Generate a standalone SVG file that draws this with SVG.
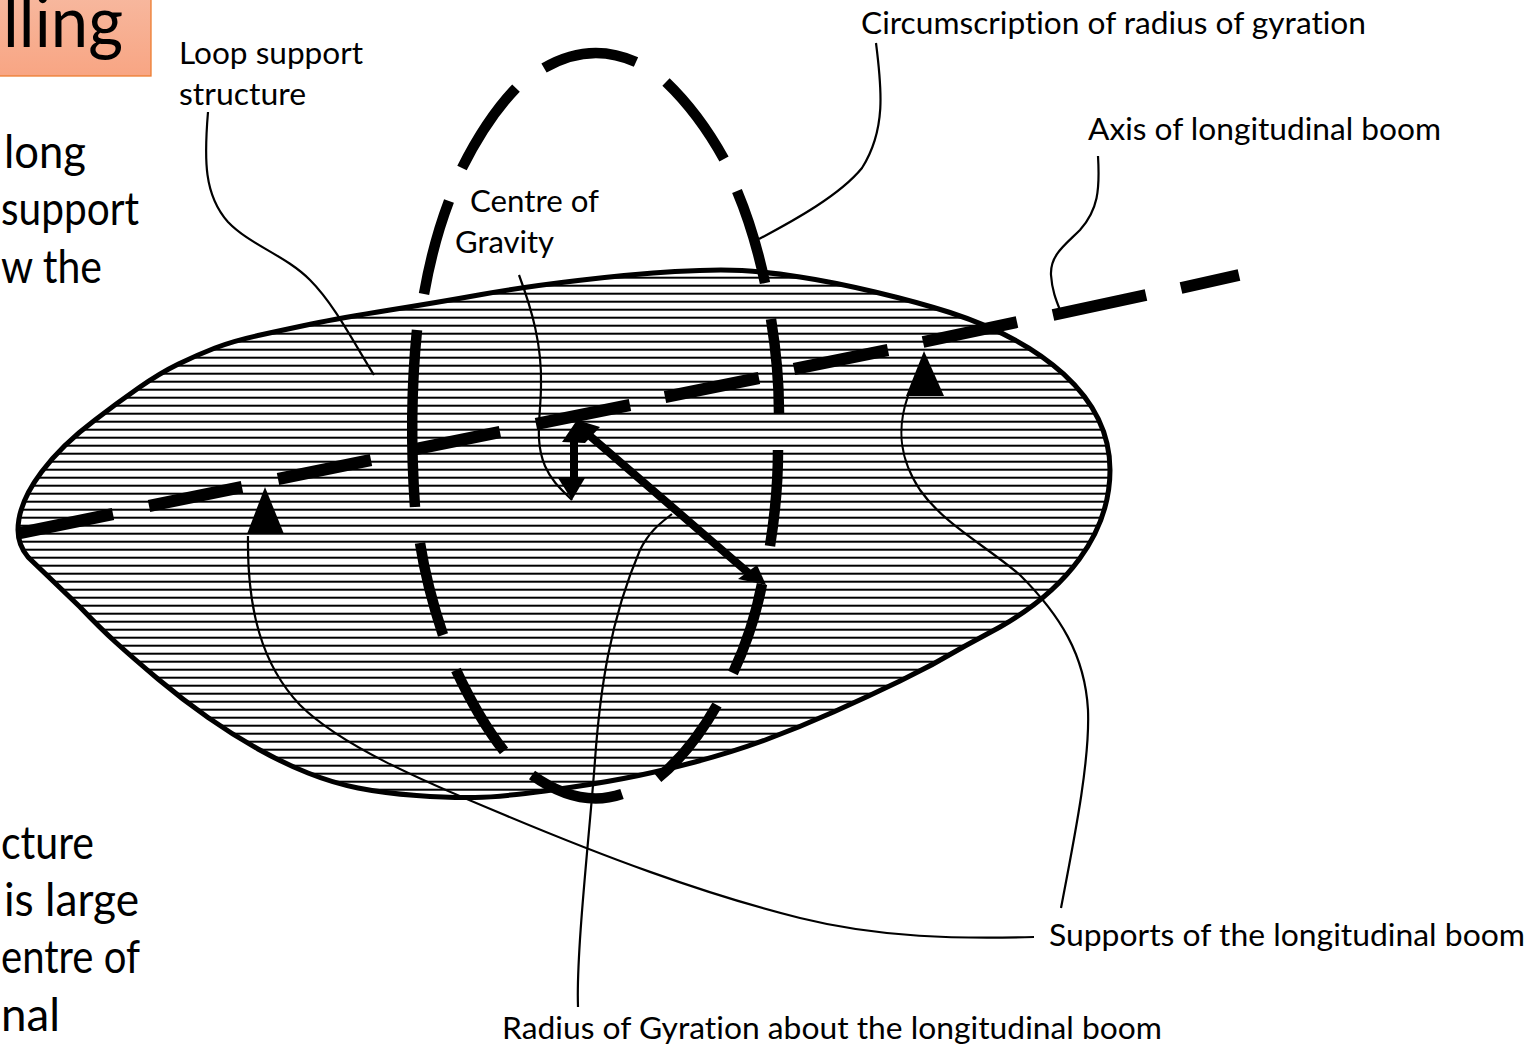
<svg xmlns="http://www.w3.org/2000/svg" width="1537" height="1047" viewBox="0 0 1537 1047">
<style>
text{font-family:Lato,"Open Sans","Noto Sans",sans-serif;fill:#000;font-variant-ligatures:none}
.l{font-size:30px}
.b{font-size:46px}
.thin{fill:none;stroke:#000;stroke-width:2.2px}
.loop{fill:none;stroke:#000;stroke-width:10.5px}
.axis{fill:none;stroke:#000;stroke-width:12px}
.arr{fill:none;stroke:#000;stroke-width:8px}
</style>
<defs>
<pattern id="hatch" width="8" height="8" patternUnits="userSpaceOnUse"><rect y="4.7" width="8" height="2"/></pattern>
<linearGradient id="tg" x1="0" y1="0" x2="0" y2="1"><stop offset="0" stop-color="#f7b9a0"/><stop offset="1" stop-color="#f8a583"/></linearGradient>
</defs>
<g id="title"><rect x="-4" y="-10" width="155" height="86" fill="url(#tg)" stroke="#ed7d31" stroke-width="1.3"/>
<text x="3" y="47" font-size="72" textLength="120" lengthAdjust="spacingAndGlyphs">lling</text></g>
<g id="body-text">
<text class="b" x="4" y="168" textLength="82" lengthAdjust="spacingAndGlyphs">long</text>
<text class="b" x="1" y="225" textLength="138" lengthAdjust="spacingAndGlyphs">support</text>
<text class="b" x="1" y="283" textLength="101" lengthAdjust="spacingAndGlyphs">w the</text>
<text class="b" x="1" y="859" textLength="93" lengthAdjust="spacingAndGlyphs">cture</text>
<text class="b" x="4" y="916" textLength="135" lengthAdjust="spacingAndGlyphs">is large</text>
<text class="b" x="1" y="973" textLength="139" lengthAdjust="spacingAndGlyphs">entre of</text>
<text class="b" x="1" y="1031" textLength="59" lengthAdjust="spacingAndGlyphs">nal</text>
</g>
<g id="body"><path d="M18 530C18 492 55 450 95 420Q117 403 138.5 388Q160 373 178.5 364Q197 355 215 348Q233 341 258 335.5Q283 330 311.5 324Q340 318 390 310Q440 302 481.5 294.5Q523 287 578 280.500Q633 274 675 271.5Q717 269 742 270.5Q767 272 800 277Q833 282 875 292Q917 302 950 312.5C1040 342 1110 395 1110 470C1110 535 1065 590 1000 627L965 646Q933 665 900 681Q867 697 833.5 712Q800 727 766.5 739.5Q733 752 695 762Q657 772 623.5 778.5Q590 785 545 791Q500 797 475 797.5Q450 798 416.5 795.5Q383 793 358 788Q333 783 308 773Q283 763 258 749Q233 735 208 717.5Q183 700 158 679Q133 658 116.5 643Q100 628 80 607L28 557Q18 545 18 530Z" fill="url(#hatch)" stroke="#000" stroke-width="5"/></g>
<g id="loop-support">
<path class="loop" d="M424 294C430 260 438 230 449 201"/>
<path class="loop" d="M462 168C478 136 495 110 516 88"/>
<path class="loop" d="M544 68C575 50 605 48 636 62"/>
<path class="loop" d="M666 82C690 105 708 130 724 159"/>
<path class="loop" d="M737 191C750 222 758 250 765 283"/>
<path class="loop" d="M771 319C776 350 779 380 779 413"/>
<path class="loop" d="M778 450C778 485 775 515 770 546"/>
<path class="loop" d="M762 584C756 615 746 645 733 673"/>
<path class="loop" d="M717 705C700 735 680 760 658 778"/>
<path class="loop" d="M622 794C590 805 560 795 532 775"/>
<path class="loop" d="M504 751C485 727 470 700 456 670"/>
<path class="loop" d="M443 635C433 605 425 575 420 543"/>
<path class="loop" d="M415 507C411 450 411 390 417 330"/>
</g>
<g id="connectors">
<g class="axis-line">
<path class="axis" d="M20 533L113 514M149 506L242 487M278 479L371 460M416 449L500 432M536 424L630 405M665 397L759 378M794 369L888 350M923 342L1017 322M1053 315L1146 295M1181 288L1239 275"/>
</g>
<path d="M924 351L944 396H906Z"/>
<path d="M265 487L284 534H247Z"/>
<path class="arr" d="M574 440V485M590 436L752 576"/>
<path d="M577 420L600 427L585 443L562 442Z"/>
<path d="M572 500L558 478H585Z"/>
<path d="M766 585L738 579L757 565Z"/>
<path class="thin" d="M208 112C204 160 204 195 228 222C250 245 285 255 310 280C335 305 355 345 374 375"/>
<path class="thin" d="M876 43C882 90 886 130 862 168C840 195 795 220 759 239"/>
<path class="thin" d="M1098 156C1100 190 1098 210 1080 230C1065 245 1050 255 1051 275C1052 290 1056 300 1060 310"/>
<path class="thin" d="M519 275C532 310 542 345 541 385C541 415 534 440 545 466C552 482 562 490 572 500"/>
<path class="thin" d="M1034 937C960 939 880 938 800 918C700 893 600 855 500 813C420 780 340 745 300 705C262 665 247 610 248 536"/>
<path class="thin" d="M1061 908C1075 835 1090 760 1088 710C1085 655 1060 615 1020 575C985 545 945 525 920 490C900 460 896 430 908 396"/>
<path class="thin" d="M578 1007C576 950 590 830 595 760C600 690 610 620 640 550C650 530 662 522 672 514"/>
</g>
<g id="labels">
<text class="l" x="179" y="64" textLength="184" lengthAdjust="spacingAndGlyphs">Loop support</text>
<text class="l" x="179" y="105" textLength="127" lengthAdjust="spacingAndGlyphs">structure</text>
<text class="l" x="861" y="34" textLength="505" lengthAdjust="spacingAndGlyphs">Circumscription of radius of gyration</text>
<text class="l" x="1088" y="140" textLength="353" lengthAdjust="spacingAndGlyphs">Axis of longitudinal boom</text>
<text class="l" x="470" y="212" textLength="129" lengthAdjust="spacingAndGlyphs">Centre of</text>
<text class="l" x="455" y="253" textLength="99" lengthAdjust="spacingAndGlyphs">Gravity</text>
<text class="l" x="1049" y="946" textLength="476" lengthAdjust="spacingAndGlyphs">Supports of the longitudinal boom</text>
<text class="l" x="502" y="1039" textLength="660" lengthAdjust="spacingAndGlyphs">Radius of Gyration about the longitudinal boom</text>
</g>
</svg>
